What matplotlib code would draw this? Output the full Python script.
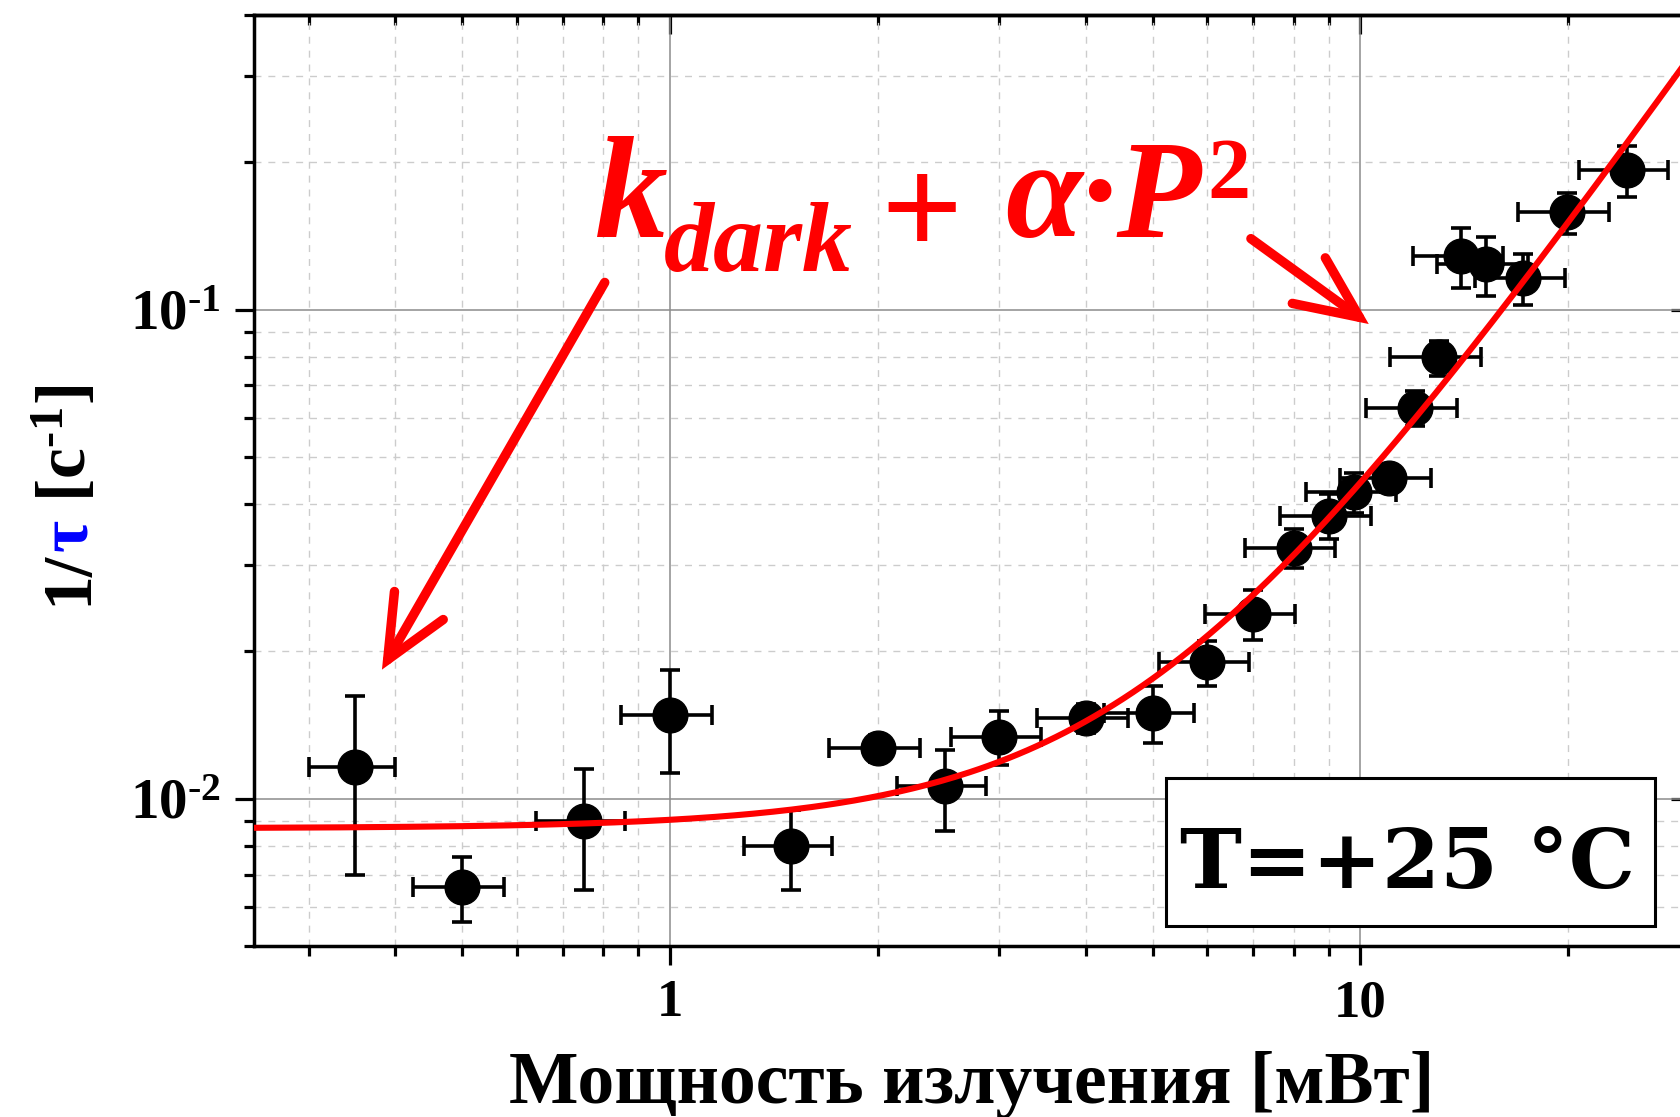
import numpy as np
import matplotlib
matplotlib.use("Agg")
import matplotlib.pyplot as plt
from matplotlib.patches import Rectangle
from matplotlib.ticker import LogLocator, NullFormatter

plt.rcParams['font.family'] = ['Liberation Serif', 'DejaVu Serif']
plt.rcParams['font.weight'] = 'bold'
plt.rcParams['mathtext.fontset'] = 'custom'
plt.rcParams['mathtext.rm'] = 'Liberation Serif:bold'
plt.rcParams['mathtext.it'] = 'Liberation Serif:italic:bold'
plt.rcParams['mathtext.bf'] = 'Liberation Serif:bold'

# measured points: power [mW] vs 1/tau [1/s]
power = [0.35, 0.5, 0.75, 1.0, 1.5, 2.0, 2.5, 3.0, 4.0, 5.0, 6.0, 7.0, 8.0,
         9.0, 9.8, 11.0, 12.0, 13.0, 14.0, 15.2, 17.2, 19.9, 24.3]
rate = [0.0116, 0.0066, 0.0090, 0.0148, 0.0080, 0.0127, 0.0106, 0.0134, 0.0146,
        0.0150, 0.0190, 0.0239, 0.0326, 0.0379, 0.0424, 0.0452, 0.0630, 0.0798,
        0.1288, 0.1238, 0.1160, 0.1580, 0.1930]
power_err = [0.05, 0.075, 0.11, 0.15, 0.22, 0.3, 0.37, 0.45, 0.6, 0.75, 0.9, 1.05,
             1.2, 1.35, 1.47, 1.65, 1.8, 1.95, 2.1, 2.3, 2.55, 3.0, 3.6]
rate_err = [0.0046, 0.0010, 0.0025, 0.0035, 0.0015, 0.0008, 0.0020, 0.0017, 0.0010,
            0.0020, 0.0020, 0.0028, 0.0030, 0.0040, 0.0040, 0.0028, 0.0052, 0.0065,
            0.0180, 0.0170, 0.0140, 0.0150, 0.0230]

# fit k_dark + alpha*P^2
k_dark = 0.0087
alpha = 0.000356

W, H = 1680, 1117
fig = plt.figure(figsize=(W / 100, H / 100), dpi=100)
ax = fig.add_axes([254 / W, (H - 946) / H, 1436 / W, 931 / H])
ax.set_xscale('log')
ax.set_yscale('log')
ax.set_xlim(0.25, 30)
ax.set_ylim(0.005, 0.4)

ax.set_axisbelow(True)
ax.grid(which='major', color='#8c8c8c', lw=1.1, ls='-')
ax.grid(which='minor', color='#cccccc', lw=1.0, ls=(0, (5, 5)))

ax.errorbar(power, rate, xerr=power_err, yerr=rate_err, fmt='o', color='black',
            ms=25, elinewidth=2.6, capsize=7.5, capthick=2.6, zorder=3)

p_fit = np.logspace(np.log10(0.25), np.log10(30), 300)
ax.plot(p_fit, k_dark + alpha * p_fit ** 2, color='red', lw=4.4, zorder=4)

# ticks: bottom/left outward, top/right inward
sub = np.arange(2, 10)
ax.set_xticks([1, 10], ['1', '10'])
ax.set_yticks([0.01, 0.1], [r'$10^{\text{-2}}$', r'$10^{\text{-1}}$'])
ax.xaxis.set_minor_locator(LogLocator(subs=sub))
ax.yaxis.set_minor_locator(LogLocator(subs=sub))
ax.xaxis.set_minor_formatter(NullFormatter())
ax.yaxis.set_minor_formatter(NullFormatter())
ax.tick_params(which='both', direction='out', width=2.3, pad=10)
ax.tick_params(axis='x', labelsize=38)
ax.tick_params(axis='y', labelsize=41)
ax.tick_params(which='major', length=14)
ax.tick_params(which='minor', length=7)
for s in ax.spines.values():
    s.set_linewidth(2.5)

ax2 = ax.secondary_xaxis('top')
ax2.set_xticks([1, 10], ['', ''])
ax2.xaxis.set_minor_locator(LogLocator(subs=sub))
ax2.xaxis.set_minor_formatter(NullFormatter())
ax2.tick_params(which='both', direction='in', width=2.3)
ax2.tick_params(which='major', length=14)
ax2.tick_params(which='minor', length=7)
ax2.spines['top'].set_linewidth(2.5)
ay2 = ax.secondary_yaxis('right')
ay2.set_yticks([0.01, 0.1], ['', ''])
ay2.yaxis.set_minor_locator(LogLocator(subs=sub))
ay2.yaxis.set_minor_formatter(NullFormatter())
ay2.tick_params(which='both', direction='in', width=2.3)
ay2.tick_params(which='major', length=14)
ay2.tick_params(which='minor', length=7)

ax.set_xlabel('Мощность излучения [мВт]', fontsize=53, fontweight='bold')
ax.xaxis.set_label_coords(0.5, -0.113)

# formula k_dark + alpha*P^2, pieces placed in figure pixels
formula = [('k', 595, 879, 105, 'italic'),
           ('dark', 664, 846, 72, 'italic'),
           ('+', 880, 862, 104, 'normal'),
           ('α·P', 1005, 880, 100, 'italic'),
           ('2', 1207, 919, 62, 'normal')]
for s, px, py, fs, st in formula:
    fig.text(px / W, py / H, s, color='red', fontsize=fs, style=st,
             ha='left', va='baseline', zorder=5)

arrow = dict(arrowstyle='->, head_length=1.0, head_width=0.45', color='red', lw=6.8,
             shrinkA=0, shrinkB=0, mutation_scale=45, capstyle='round', joinstyle='miter')
ax.annotate('', xy=(0.383, 0.01836), xytext=(0.805, 0.1136), arrowprops=arrow, zorder=5)
ax.annotate('', xy=(10.28, 0.0934), xytext=(6.94, 0.1396), arrowprops=arrow, zorder=5)

# temperature label in a box
ax.add_patch(Rectangle((0.635, 0.0215), 0.3405, 0.159, transform=ax.transAxes,
                       fc='white', ec='black', lw=2.2, zorder=6))
ax.text(0.803, 0.062, 'T=+25 °C', transform=ax.transAxes, ha='center', va='baseline',
        fontsize=60, family='DejaVu Serif', weight='bold', zorder=7)

# y label with blue tau
r = fig.canvas.get_renderer()
pos = H - 605
for s, c in [('1/', 'black'), ('τ', 'blue'), (r' [c$^{\text{-1}}$]', 'black')]:
    t = fig.text(86 / W, pos / H, s, rotation=90, rotation_mode='anchor',
                 ha='left', va='baseline', color=c, fontsize=50)
    pos += t.get_window_extent(r).height

fig.savefig('out.png', dpi=100)
